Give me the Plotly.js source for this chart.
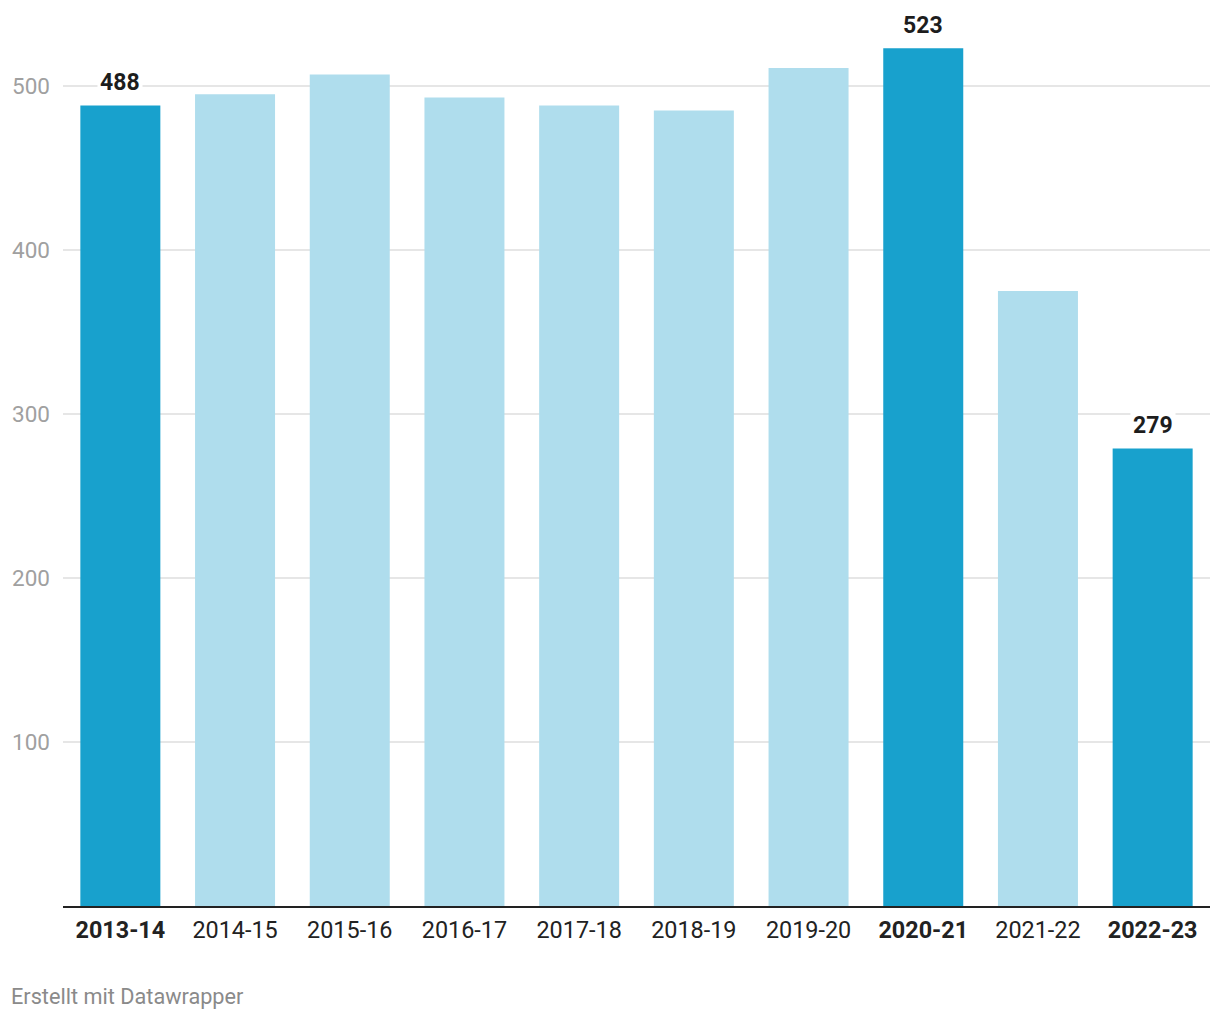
<!DOCTYPE html>
<html>
<head>
<meta charset="utf-8">
<script src="https://cdn.plot.ly/plotly-3.0.1.min.js"></script>
<style>body{margin:0;background:#fff}#chart{width:1220px;height:1020px}</style>
</head>
<body>
<div id="chart"></div>
<script>
const seasons = ["2013-14","2014-15","2015-16","2016-17","2017-18","2018-19","2019-20","2020-21","2021-22","2022-23"];
const values = [488, 495, 507, 493, 488, 485, 511, 523, 375, 279];
const highlighted = [true, false, false, false, false, false, false, true, false, true];
const yTicks = [100, 200, 300, 400, 500];

const DARK = "#18a1cd", LIGHT = "#afdded";

const trace = {
  type: "bar",
  x: seasons,
  y: values,
  marker: {color: highlighted.map(h => h ? DARK : LIGHT)},
  hoverinfo: "x+y"
};

const annotations = seasons.filter((s, i) => highlighted[i]).map(s => {
  const i = seasons.indexOf(s);
  return {
    x: s, y: values[i], xref: "x", yref: "y",
    text: "<b>" + values[i] + "</b>",
    showarrow: false, yanchor: "middle", yshift: 23,
    bgcolor: "#ffffff", borderpad: 2,
    font: {family: "Roboto, sans-serif", size: 23, color: "#1d1d1d"}
  };
});
annotations.push({
  xref: "paper", yref: "paper", x: -63/1147, y: -90/896, xanchor: "left", yanchor: "middle",
  xshift: 9,
  text: "Erstellt mit Datawrapper", showarrow: false,
  font: {family: "Roboto, sans-serif", size: 21.7, color: "#8a8a8a"}
});

const layout = {
  width: 1220, height: 1020,
  margin: {l: 63, r: 10, t: 10, b: 114},
  paper_bgcolor: "#fff", plot_bgcolor: "#fff",
  bargap: 0.3026,
  showlegend: false,
  font: {family: "Roboto, sans-serif"},
  xaxis: {
    type: "category",
    tickvals: seasons,
    ticktext: seasons.map((s, i) => highlighted[i] ? "<b>" + s + "</b>" : s),
    ticks: "", showgrid: false,
    showline: true, linecolor: "#222", linewidth: 2,
    tickfont: {family: "Roboto, sans-serif", size: 23.4, color: "#222"},
    ticklabelstandoff: 2,
    fixedrange: true
  },
  yaxis: {
    range: [0, 546.3],
    tickvals: yTicks,
    ticktext: yTicks.map(String),
    ticks: "", showline: false, zeroline: false,
    showgrid: true, gridcolor: "#e6e6e6", gridwidth: 2,
    tickfont: {family: "Roboto, sans-serif", size: 22.5, color: "#a0a0a0"},
    ticklabelstandoff: 12,
    fixedrange: true
  },
  annotations: annotations
};

Plotly.newPlot("chart", [trace], layout, {displayModeBar: false, staticPlot: true});
</script>
</body>
</html>
